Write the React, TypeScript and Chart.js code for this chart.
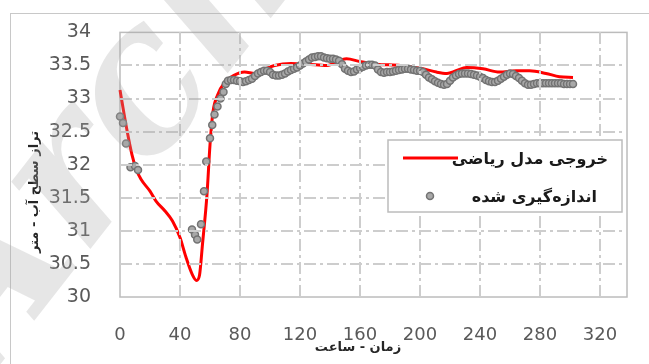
import React, { useEffect, useRef } from "react";
import { Chart, registerables } from "chart.js";

Chart.register(...registerables);

// ---- data ----
const xTickValues = [0, 40, 80, 120, 160, 200, 240, 280, 320];
const yTickValues = [30, 30.5, 31, 31.5, 32, 32.5, 33, 33.5, 34];

const modelHours = [0, 4, 8, 11, 14, 20, 24, 30, 35, 40, 44, 48, 51, 53, 55, 58, 60, 62, 65, 70, 76, 83, 90, 97, 103, 114, 125, 138, 151, 160, 171, 187, 202, 211, 218, 224, 231, 242, 253, 264, 273, 284, 293, 302];
const modelLevels = [33.13, 32.6, 32.15, 31.92, 31.78, 31.6, 31.45, 31.3, 31.15, 30.9, 30.6, 30.35, 30.25, 30.33, 30.8, 31.55, 32.3, 32.8, 33.05, 33.25, 33.35, 33.4, 33.38, 33.45, 33.5, 33.53, 33.52, 33.5, 33.6, 33.56, 33.52, 33.5, 33.45, 33.4, 33.38, 33.42, 33.47, 33.45, 33.4, 33.42, 33.42, 33.38, 33.33, 33.32];

const measuredHours = [0, 2, 4, 7, 10, 12, 48, 50, 51.5, 54, 56, 57.5, 60, 61.5, 63, 65, 67, 69, 70.5, 72, 74, 76, 78, 80, 82, 84, 86, 88, 90, 92, 94, 96, 98, 100, 102, 104, 106, 108, 110, 112, 114, 116, 118, 120, 122, 124, 126, 128, 130, 132, 134, 136, 138, 140, 142, 144, 146, 148, 150, 152, 154, 156, 158, 160, 162, 164, 166, 168, 170, 172, 174, 176, 178, 180, 182, 184, 186, 188, 190, 192, 194, 196, 198, 200, 202, 204, 206, 208, 210, 212, 214, 216, 218, 220, 222, 224, 226, 228, 230, 232, 234, 236, 238, 240, 242, 244, 246, 248, 250, 252, 254, 256, 258, 260, 262, 264, 266, 268, 270, 272, 274, 276, 278, 280, 282, 284, 286, 288, 290, 292, 294, 296, 298, 300, 302];
const measuredLevels = [32.73, 32.63, 32.32, 31.96, 31.98, 31.92, 31.02, 30.94, 30.87, 31.1, 31.6, 32.05, 32.4, 32.6, 32.76, 32.88, 33.0, 33.1, 33.22, 33.27, 33.28, 33.28, 33.27, 33.26, 33.25, 33.26, 33.28, 33.3, 33.34, 33.38, 33.4, 33.42, 33.42, 33.4, 33.36, 33.35, 33.35, 33.36, 33.38, 33.41, 33.43, 33.45, 33.47, 33.5, 33.53, 33.56, 33.59, 33.62, 33.63, 33.64, 33.64, 33.62, 33.61, 33.6, 33.6, 33.59, 33.57, 33.52, 33.45, 33.42, 33.4, 33.41, 33.44, 33.46, 33.48, 33.5, 33.51, 33.51, 33.5, 33.44, 33.4, 33.39, 33.4, 33.4, 33.41, 33.42, 33.43, 33.44, 33.45, 33.45, 33.44, 33.43, 33.42, 33.42, 33.4, 33.36, 33.32, 33.29, 33.26, 33.24, 33.22, 33.21, 33.22, 33.27, 33.32, 33.35, 33.37, 33.38, 33.38, 33.38, 33.37, 33.36, 33.35, 33.33, 33.31, 33.28, 33.26, 33.25, 33.25, 33.27, 33.3, 33.33, 33.36, 33.38, 33.37, 33.34, 33.31, 33.27, 33.23, 33.21, 33.21, 33.22, 33.23, 33.23, 33.23, 33.23, 33.23, 33.23, 33.23, 33.23, 33.23, 33.22, 33.22, 33.22, 33.22, 33.21];

const seriesNames = ["خروجی مدل ریاضی", "اندازه‌گیری شده"];
const xAxisTitle = "زمان - ساعت";
const yAxisTitle = "تراز سطح آب - متر";
const watermarkText = "Archive";

const RED = "#ff0000";
const DOT_FILL = "#a8a8a8";
const DOT_EDGE = "#737373";
const GRID = "#cdcdcd";
const GRID_DASH = [12, 4, 3, 4];
const FRAME = "#bcbcbc";

function dashedRects(ctx: CanvasRenderingContext2D, horizontal: boolean, fixed: number, from: number, to: number) {
  const f = Math.round(fixed) - 1;
  let pos = from;
  let i = 0;
  while (pos < to) {
    const seg = GRID_DASH[i % GRID_DASH.length];
    const end = Math.min(pos + seg, to);
    if (i % 2 === 0) {
      if (horizontal) ctx.fillRect(Math.round(pos), f, Math.round(end - pos), 2);
      else ctx.fillRect(f, Math.round(pos), 2, Math.round(end - pos));
    }
    pos = end;
    i++;
  }
}

const decorPlugin = {
  id: "decor",
  beforeDatasetsDraw(chart: any) {
    const ctx: CanvasRenderingContext2D = chart.ctx;
    const xs = chart.scales.x;
    const ys = chart.scales.y;
    const left = xs.getPixelForValue(0);
    const right = xs.getPixelForValue(338);
    const top = ys.getPixelForValue(34);
    const bottom = ys.getPixelForValue(30);
    ctx.save();
    ctx.strokeStyle = FRAME;
    ctx.lineWidth = 1.5;
    ctx.strokeRect(left, top, right - left, bottom - top);
    ctx.restore();

    ctx.save();
    ctx.fillStyle = "#262626";
    ctx.font = 'bold 13px "DejaVu Sans"';
    ctx.textAlign = "center";
    ctx.textBaseline = "middle";
    (ctx as any).direction = "rtl";
    ctx.fillText(xAxisTitle, 358, 348);
    ctx.translate(35, 192);
    ctx.rotate(-Math.PI / 2);
    ctx.fillText(yAxisTitle, 0, 0);
    ctx.restore();
  },
  afterDatasetsDraw(chart: any) {
    const ctx: CanvasRenderingContext2D = chart.ctx;
    const xs = chart.scales.x;
    const ys = chart.scales.y;
    const left = xs.getPixelForValue(0);
    const right = xs.getPixelForValue(338);
    const top = ys.getPixelForValue(34);
    const bottom = ys.getPixelForValue(30);
    ctx.save();
    ctx.fillStyle = GRID;
    for (const v of xTickValues) {
      if (v === 0) continue;
      dashedRects(ctx, false, xs.getPixelForValue(v), top, bottom);
    }
    for (const v of yTickValues) {
      if (v === 30 || v === 34) continue;
      dashedRects(ctx, true, ys.getPixelForValue(v), left, right);
    }
    ctx.restore();

    ctx.save();
    ctx.translate(-12, 380);
    ctx.rotate((-52 * Math.PI) / 180);
    ctx.font = 'bold italic 200px "DejaVu Serif"';
    ctx.textAlign = "left";
    ctx.textBaseline = "alphabetic";
    ctx.fillStyle = "rgba(165,165,165,0.28)";
    ctx.fillText(watermarkText, 0, 0);
    ctx.restore();
  },
  afterDraw(chart: any) {
    const ctx: CanvasRenderingContext2D = chart.ctx;
    ctx.save();
    ctx.fillStyle = "#ffffff";
    ctx.fillRect(388, 140, 234, 72);
    ctx.strokeStyle = FRAME;
    ctx.lineWidth = 1.5;
    ctx.strokeRect(388, 140, 234, 72);
    ctx.strokeStyle = RED;
    ctx.lineWidth = 3;
    ctx.beginPath();
    ctx.moveTo(403, 158);
    ctx.lineTo(458, 158);
    ctx.stroke();
    ctx.beginPath();
    ctx.arc(430, 196, 3.5, 0, Math.PI * 2);
    ctx.fillStyle = DOT_FILL;
    ctx.fill();
    ctx.strokeStyle = DOT_EDGE;
    ctx.lineWidth = 1.5;
    ctx.stroke();
    ctx.fillStyle = "#1a1a1a";
    ctx.font = 'bold 16px "DejaVu Sans"';
    (ctx as any).direction = "rtl";
    ctx.textAlign = "right";
    ctx.textBaseline = "middle";
    ctx.fillText(seriesNames[0], 608, 160);
    ctx.fillText(seriesNames[1], 597, 198);
    ctx.restore();
  },
};

export default function App() {
  const canvasRef = useRef<HTMLCanvasElement | null>(null);

  useEffect(() => {
    if (!canvasRef.current) return;
    const modelData = modelHours.map((h, i) => ({ x: h, y: modelLevels[i] }));
    const measuredData = measuredHours.map((h, i) => ({ x: h, y: measuredLevels[i] }));

    const chart = new Chart(canvasRef.current, {
      type: "scatter",
      data: {
        datasets: [
          {
            label: seriesNames[1],
            data: measuredData,
            showLine: false,
            pointRadius: 3.5,
            backgroundColor: DOT_FILL,
            borderColor: DOT_EDGE,
            pointBackgroundColor: DOT_FILL,
            pointBorderColor: DOT_EDGE,
            pointBorderWidth: 1.5,
            fill: false,
            clip: false,
            order: 1,
          },
          {
            type: "line",
            label: seriesNames[0],
            data: modelData,
            showLine: true,
            borderColor: RED,
            backgroundColor: RED,
            borderWidth: 3,
            pointRadius: 0,
            cubicInterpolationMode: "monotone",
            fill: false,
            clip: false,
            order: 2,
          } as any,
        ],
      },
      options: {
        animation: false,
        responsive: true,
        maintainAspectRatio: false,
        layout: { padding: { left: 0, top: 26, right: 22, bottom: 0 } },
        plugins: { legend: { display: false }, tooltip: { enabled: false } },
        scales: {
          x: {
            type: "linear",
            min: 0,
            max: 338,
            afterBuildTicks: (scale: any) => {
              scale.ticks = xTickValues.map((v) => ({ value: v }));
            },
            afterFit: (scale: any) => {
              scale.height = 67;
            },
            grid: { display: false },
            border: { display: false },
            ticks: {
              padding: 20,
              color: "#595959",
              font: { family: '"DejaVu Sans"', size: 18 },
              callback: (v: any) => String(v),
            },
          },
          y: {
            type: "linear",
            min: 30,
            max: 34,
            afterBuildTicks: (scale: any) => {
              scale.ticks = yTickValues.map((v) => ({ value: v }));
            },
            afterFit: (scale: any) => {
              scale.width = 120;
            },
            grid: { display: false },
            border: { display: false },
            ticks: {
              padding: 21,
              color: "#595959",
              font: { family: '"DejaVu Sans"', size: 19 },
              callback: (v: any) => String(v),
            },
          },
        },
      },
      plugins: [decorPlugin],
    });
    return () => chart.destroy();
  }, []);

  return (
    <div
      style={{
        position: "fixed",
        left: 0,
        top: 0,
        width: 649,
        height: 364,
        overflow: "hidden",
        background: "#ffffff",
      }}
    >
      <div
        style={{
          position: "absolute",
          left: 10,
          top: 13,
          width: 700,
          height: 400,
          border: "1.5px solid #c8c8c8",
          boxSizing: "border-box",
        }}
      />
      <div style={{ position: "absolute", left: 0, top: 0, width: 649, height: 364 }}>
        <canvas ref={canvasRef} />
      </div>
    </div>
  );
}
